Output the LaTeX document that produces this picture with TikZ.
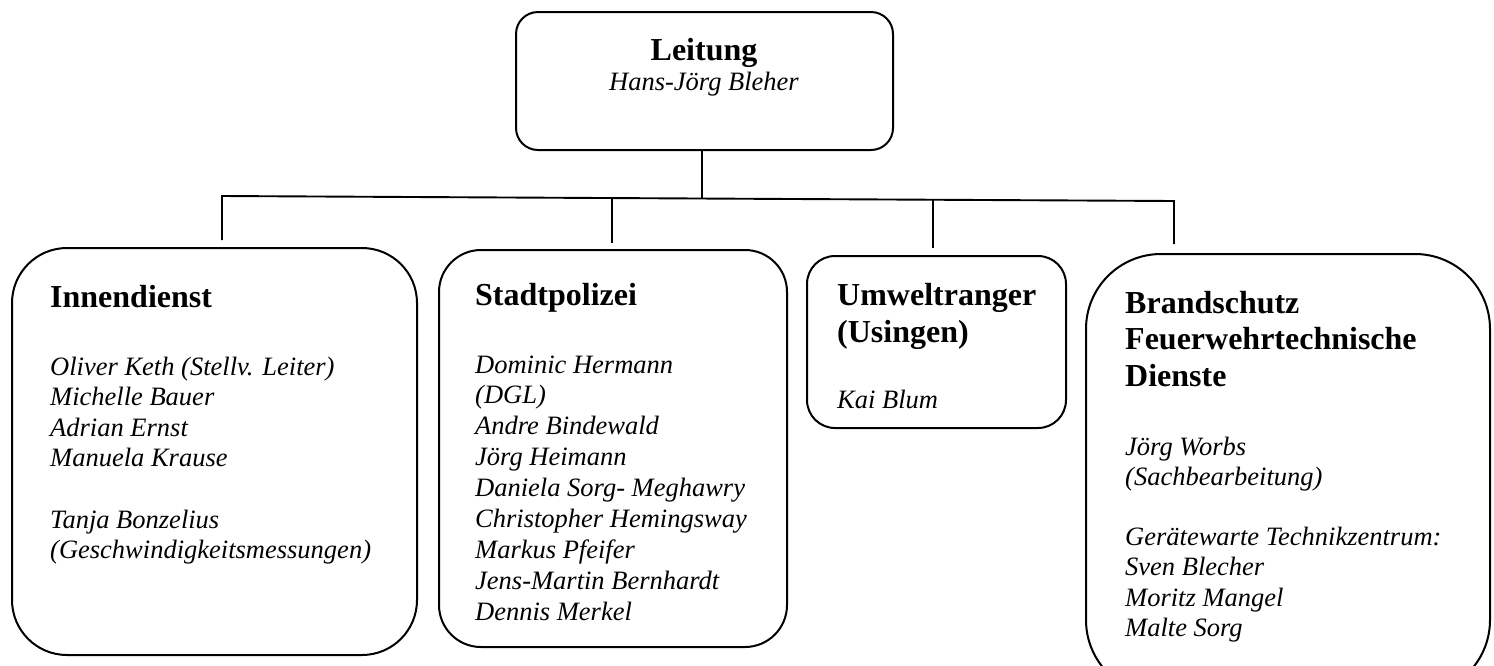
\documentclass[tikz,border=0pt]{standalone}
\usepackage{fontspec}
\setmainfont{Liberation Serif}
\newcommand\txtlines[6]{% prefix, style, x, first baseline, skip, list
  \foreach \l [count=\i from 0] in {#6} {\node[#2,anchor=base west] (#1\i) at ({#3},{#4+#5*\i}) {\l};}}
\begin{document}
\begin{tikzpicture}[x=1pt,y=-1pt,
  orgbox/.style={draw=black,line width=2pt,fill=white,inner sep=0pt},
  conn/.style={draw=black,line width=1.9pt},
  headtxt/.style={inner sep=0pt,font=\fontsize{32}{37}\selectfont\bfseries},
  persontxt/.style={inner sep=0pt,font=\fontsize{26.5}{30.5}\selectfont\itshape}]
\useasboundingbox (0,0) rectangle (1494,665);

% boxes
\node[orgbox,rounded corners=22pt,minimum width=377pt,minimum height=138pt] (top) at (704.5,81) {};
\node[orgbox,rounded corners=55pt,minimum width=405pt,minimum height=407pt] (b1) at (214.5,451.5) {};
\node[orgbox,rounded corners=42pt,minimum width=348pt,minimum height=397pt] (b2) at (613,448.5) {};
\node[orgbox,rounded corners=28pt,minimum width=259pt,minimum height=172pt] (b3) at (936.5,342) {};
\node[orgbox,rounded corners=75pt,minimum width=404pt,minimum height=441pt] (b4) at (1288,474.5) {};

% top texts
\node[headtxt,anchor=base] (toptitle) at (704,60) {Leitung};
\node[persontxt,anchor=base] (topname) at (704,90) {Hans-Jörg Bleher};

% connectors
\coordinate (busL) at (222,196);
\coordinate (busR) at (1174,201);
\coordinate (busT) at (702,198.5);
\coordinate (bus2) at (612,198);
\coordinate (bus3) at (933,200);
\coordinate (d1) at (222,240);
\coordinate (d2) at (612,243);
\coordinate (d3) at (933,248);
\coordinate (d4) at (1174,244);
\draw[conn] (busT |- top.south) -- (busT);
\draw[conn] (d1) -- (busL) -- (busR) -- (d4);
\draw[conn] (bus2) -- (d2);
\draw[conn] (bus3) -- (d3);

% box 1
\node[headtxt,anchor=base west] (t1) at (50,307) {Innendienst};
\txtlines{a}{persontxt}{50}{375}{30.6}{Oliver Keth (Stellv. Leiter),Michelle Bauer,Adrian Ernst,Manuela Krause}
\txtlines{b}{persontxt}{50}{528}{30.6}{Tanja Bonzelius,(Geschwindigkeitsmessungen)}

% box 2
\node[headtxt,anchor=base west] (t2) at (475,305) {Stadtpolizei};
\txtlines{c}{persontxt}{475}{373}{30.9}{Dominic Hermann,(DGL),Andre Bindewald,Jörg Heimann,Daniela Sorg- Meghawry,Christopher Hemingsway,Markus Pfeifer,Jens-Martin Bernhardt,Dennis Merkel}

% box 3
\txtlines{d}{headtxt}{837}{305}{37}{Umweltranger,(Usingen)}
\node[persontxt,anchor=base west] (e0) at (837,408) {Kai Blum};

% box 4
\txtlines{f}{headtxt}{1125}{313}{36.5}{Brandschutz,Feuerwehrtechnische,Dienste}
\txtlines{g}{persontxt}{1125}{455}{30.5}{Jörg Worbs,(Sachbearbeitung)}
\txtlines{h}{persontxt}{1125}{545}{30.6}{Gerätewarte Technikzentrum:,Sven Blecher,Moritz Mangel,Malte Sorg}
\end{tikzpicture}
\end{document}
